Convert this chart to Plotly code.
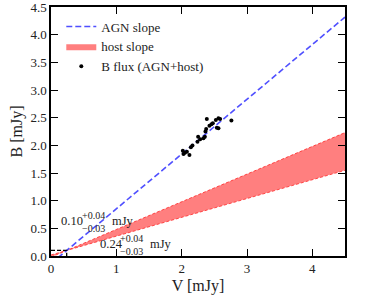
import plotly.graph_objects as go
import numpy as np

# Data
V_flux = [2.018, 2.049, 2.080, 2.028, 2.119, 2.141, 2.165, 2.252, 2.242, 2.283, 2.355, 2.333,
          2.364, 2.375, 2.385, 2.425, 2.456, 2.477, 2.523, 2.563, 2.589, 2.563, 2.538, 2.761]
B_flux = [1.904, 1.868, 1.886, 1.844, 1.826, 1.966, 1.995, 2.157, 2.067, 2.110, 2.157, 2.128,
          2.248, 2.297, 2.477, 2.356, 2.382, 2.400, 2.459, 2.490, 2.477, 2.309, 2.320, 2.447]
host_V = 0.24
host_B = 0.10
agn_slope = 0.99
host_slope_lo = 0.34
host_slope_hi = 0.50
x_range = [0, 4.5]
y_range = [0, 4.5]

FONT = "Liberation Serif"
xs = np.array(x_range)
agn_y = host_B + agn_slope * (xs - host_V)
lo_y = host_B + host_slope_lo * (xs - host_V)
hi_y = host_B + host_slope_hi * (xs - host_V)

fig = go.Figure()
# host band
fig.add_trace(go.Scatter(
    x=[xs[0], xs[1], xs[1], xs[0], xs[0]],
    y=[lo_y[0], lo_y[1], hi_y[1], hi_y[0], lo_y[0]],
    fill="toself", fillcolor="rgba(255,0,0,0.5)", mode="lines",
    line=dict(width=0), name="host slope", legendrank=2, hoverinfo="skip"))
for yy in (lo_y, hi_y):
    fig.add_trace(go.Scatter(x=xs, y=yy, mode="lines", showlegend=False,
                             line=dict(color="rgba(255,40,40,0.8)", width=1, dash="3px,2px")))
# AGN line
fig.add_trace(go.Scatter(x=xs, y=agn_y, mode="lines", name="AGN slope", legendrank=1,
                         line=dict(color="rgba(60,60,255,0.9)", width=1.6, dash="6px,3px")))
# host box
fig.add_trace(go.Scatter(x=[0, host_V, host_V], y=[host_B, host_B, 0], mode="lines",
                         showlegend=False, line=dict(color="black", width=1.3, dash="4px,2px")))
# points
fig.add_trace(go.Scatter(x=V_flux, y=B_flux, mode="markers", name="B flux (AGN+host)",
                         legendrank=3, marker=dict(color="black", size=4)))

ann = []
def label(v, b, main, gap):
    ann.append(dict(x=v, y=b, xref="x", yref="y", text=main, showarrow=False,
                    xanchor="left", yanchor="middle", font=dict(family=FONT, size=12.5, color="#222")))
    ann.append(dict(x=v + 0.31, y=b - 0.02, xref="x", yref="y", text="+0.04<br>−0.03", showarrow=False,
                    xanchor="left", yanchor="middle", align="left",
                    font=dict(family=FONT, size=10, color="#222")))
    ann.append(dict(x=v + 0.31 + gap, y=b, xref="x", yref="y", text="mJy", showarrow=False,
                    xanchor="left", yanchor="middle", font=dict(family=FONT, size=12.5, color="#222")))
label(0.13, 0.64, "0.10", 0.46)
label(0.72, 0.22, "0.24", 0.46)

axis = dict(showline=True, linecolor="black", linewidth=1.5, mirror="ticks", ticks="inside",
            ticklen=7, tickwidth=1.3, tickcolor="black", showgrid=False, zeroline=False,
            automargin=False, ticklabeloverflow="allow",
            tickfont=dict(family=FONT, size=13, color="#222"))
fig.update_layout(
    width=372, height=300, margin=dict(l=51, r=27, t=7, b=44),
    plot_bgcolor="white", paper_bgcolor="white",
    font=dict(family=FONT, size=13, color="#222"),
    xaxis=dict(range=x_range, dtick=1, title=dict(text="V [mJy]", standoff=4), **axis),
    yaxis=dict(range=y_range, dtick=0.5, tickformat=".1f", title=dict(text="B [mJy]", standoff=4), **axis),
    legend=dict(x=0.035, y=0.982, xanchor="left", yanchor="top", bgcolor="rgba(0,0,0,0)",
                font=dict(family=FONT, size=13), tracegroupgap=0, itemwidth=30),
    annotations=ann, showlegend=True)
fig.write_html("out.html", config={"displayModeBar": False},
               post_script="document.body.style.margin='0';")
